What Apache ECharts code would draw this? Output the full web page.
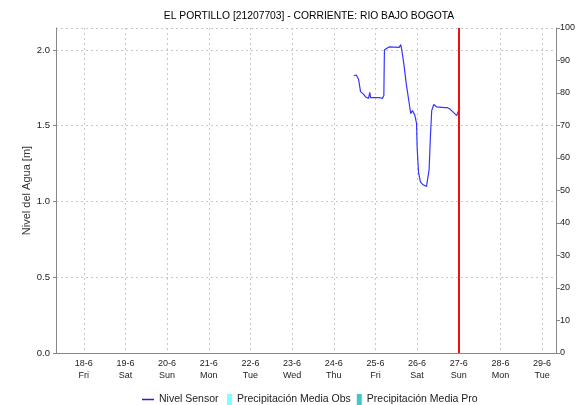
<!DOCTYPE html>
<html>
<head>
<meta charset="utf-8">
<script src="https://cdn.jsdelivr.net/npm/echarts@6/dist/echarts.min.js"></script>
<style>
  html, body { margin: 0; padding: 0; background: #fff; }
  #chart { width: 585px; height: 405px; }
</style>
</head>
<body>
<div id="chart"></div>
<script>
// horas de lectura del sensor (UTC) y nivel en metros
const sensorTimes = [
  "2021-06-24T11:30Z", "2021-06-24T13:00Z", "2021-06-24T14:15Z", "2021-06-24T15:25Z",
  "2021-06-24T16:55Z", "2021-06-24T18:25Z", "2021-06-24T19:30Z", "2021-06-24T20:00Z",
  "2021-06-24T20:45Z", "2021-06-24T21:10Z", "2021-06-25T02:30Z", "2021-06-25T04:00Z",
  "2021-06-25T04:50Z", "2021-06-25T05:10Z", "2021-06-25T06:20Z", "2021-06-25T07:50Z",
  "2021-06-25T13:40Z", "2021-06-25T14:35Z", "2021-06-25T15:10Z", "2021-06-25T16:20Z",
  "2021-06-25T17:50Z", "2021-06-25T19:25Z", "2021-06-25T20:20Z", "2021-06-25T21:20Z",
  "2021-06-25T22:40Z", "2021-06-25T23:40Z", "2021-06-26T00:00Z", "2021-06-26T00:50Z",
  "2021-06-26T01:55Z", "2021-06-26T03:25Z", "2021-06-26T05:25Z", "2021-06-26T06:30Z",
  "2021-06-26T06:55Z", "2021-06-26T07:40Z", "2021-06-26T08:25Z", "2021-06-26T09:35Z",
  "2021-06-26T11:10Z", "2021-06-26T16:00Z", "2021-06-26T16:30Z", "2021-06-26T17:15Z",
  "2021-06-26T18:50Z", "2021-06-26T20:20Z", "2021-06-26T21:40Z", "2021-06-26T22:50Z",
  "2021-06-26T23:50Z", "2021-06-27T00:35Z"
];
const sensorLevels = [
  1.83, 1.835, 1.807, 1.725,
  1.71, 1.69, 1.70, 1.68,
  1.72, 1.685, 1.685, 1.68,
  1.70, 2.00, 2.01, 2.02,
  2.017, 2.035, 2.00, 1.91,
  1.77, 1.65, 1.58, 1.60,
  1.57, 1.515, 1.36, 1.19,
  1.13, 1.11, 1.10, 1.093,
  1.21, 1.43, 1.60, 1.64,
  1.625, 1.62, 1.61, 1.62,
  1.61, 1.595, 1.58, 1.567,
  1.60, 1.62
];
const precipObs = [];
const precipPro = [];
const xRange = ["2021-06-17T08:00Z", "2021-06-29T08:00Z"];
const nowMark = "2021-06-27T00:00Z";
const dayNames = ["Sun", "Mon", "Tue", "Wed", "Thu", "Fri", "Sat"];
const seriesNames = ["Nivel Sensor", "Precipitación Media Obs", "Precipitación Media Pro"];

const font = "Liberation Sans, Arial, sans-serif";
const t = (s) => new Date(s).getTime();

let chart = echarts.init(document.getElementById("chart"));
let option = {
  useUTC: true,
  animation: false,
  textStyle: { fontFamily: font },
  title: {
    text: "EL PORTILLO [21207703] - CORRIENTE: RIO BAJO BOGOTA",
    left: 304,
    textAlign: "center",
    top: 6,
    textStyle: { fontSize: 10.3, fontWeight: "normal", color: "#000", fontFamily: font }
  },
  legend: [
    {
      data: [{ name: seriesNames[0], itemStyle: { color: "#2222dd" } }],
      left: 142,
      top: 394,
      padding: 0,
      icon: "rect",
      itemWidth: 12,
      itemHeight: 1.5,
      textStyle: { fontSize: 10.5, color: "#222", fontFamily: font }
    },
    {
      data: [seriesNames[1], seriesNames[2]],
      left: 227,
      top: 394,
      padding: 0,
      icon: "rect",
      itemWidth: 5,
      itemHeight: 11,
      itemGap: 6,
      textStyle: { fontSize: 10.5, color: "#222", fontFamily: font }
    }
  ],
  grid: { left: 56, right: 29, top: 28, bottom: 52 },
  xAxis: [
    {
      type: "time",
      min: t(xRange[0]),
      max: t(xRange[1]),
      splitNumber: 12,
      axisLine: { show: true, lineStyle: { color: "#555", type: [1, 1], width: 1 } },
      axisTick: { show: false },
      minorTick: { show: false },
      splitLine: { show: true, lineStyle: { color: "#c8c8c8", type: [2, 3] } },
      axisLabel: {
        showMinLabel: false,
        showMaxLabel: false,
        fontSize: 9,
        lineHeight: 12,
        color: "#222",
        margin: 5,
        hideOverlap: false,
        formatter: (v) => {
          const d = new Date(v);
          return d.getUTCDate() + "-" + (d.getUTCMonth() + 1) + "\n" + dayNames[d.getUTCDay()];
        }
      }
    },
    {
      type: "time",
      position: "top",
      min: t(xRange[0]),
      max: t(xRange[1]),
      axisLine: { show: true, lineStyle: { color: "#888" } },
      axisTick: { show: false },
      axisLabel: { show: false },
      splitLine: { show: false }
    }
  ],
  yAxis: [
    {
      type: "value",
      min: 0,
      max: 2.145,
      interval: 0.5,
      name: "Nivel del Agua [m]",
      nameLocation: "middle",
      nameGap: 24,
      nameMoveOverlap: false,
      nameTextStyle: { fontSize: 11, color: "#333", fontFamily: font },
      axisLine: { show: true, lineStyle: { color: "#888" } },
      axisTick: { show: true, length: 3, lineStyle: { color: "#888" } },
      axisLabel: {
        showMaxLabel: false,
        fontSize: 9.5,
        color: "#222",
        margin: 6,
        formatter: (v) => v.toFixed(1)
      },
      splitLine: { show: true, lineStyle: { color: "#c8c8c8", type: [2, 3] } }
    },
    {
      type: "value",
      min: 0,
      max: 100,
      interval: 10,
      position: "right",
      axisLine: { show: true, lineStyle: { color: "#888" } },
      axisTick: { show: true, length: 4, lineStyle: { color: "#888" } },
      axisLabel: { fontSize: 9, color: "#222", margin: 4 },
      splitLine: { show: false }
    }
  ],
  series: [
    {
      name: seriesNames[0],
      type: "line",
      xAxisIndex: 0,
      yAxisIndex: 0,
      data: sensorTimes.map((s, i) => [t(s), sensorLevels[i]]),
      showSymbol: false,
      lineStyle: { color: "#3535ff", width: 1.2 },
      itemStyle: { color: "#2222dd" },
      markLine: {
        silent: true,
        symbol: "none",
        label: { show: false },
        lineStyle: { color: "#ee1111", width: 2, type: "solid" },
        data: [{ xAxis: t(nowMark) }]
      }
    },
    {
      name: seriesNames[1],
      type: "bar",
      xAxisIndex: 1,
      yAxisIndex: 1,
      data: precipObs,
      itemStyle: { color: "#80ffff" }
    },
    {
      name: seriesNames[2],
      type: "bar",
      xAxisIndex: 1,
      yAxisIndex: 1,
      data: precipPro,
      itemStyle: { color: "#40c8c8" }
    }
  ]
};
chart.setOption(option);
window.onresize = chart.resize;
</script>
</body>
</html>
